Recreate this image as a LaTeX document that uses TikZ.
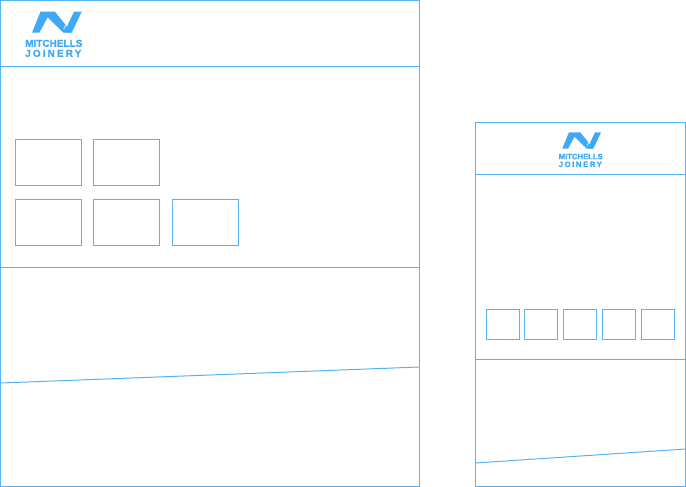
\documentclass[tikz,border=0pt]{standalone}
\usepackage{fontspec}
\setmainfont{Liberation Sans}
\definecolor{ln}{HTML}{55B2F4}
\definecolor{logo}{HTML}{3FA9F5}
\tikzset{
  x=1pt,y=-1pt,
  wire/.style={draw=ln,line width=1pt},
  logotext/.style={text=logo,inner sep=0pt,anchor=base west},
}
\newcommand{\mjlogo}[3]{%
 \begin{scope}[shift={(#1,#2)},scale=#3]
  \fill[logo] (0,21) -- (8.5,0) -- (23,0) -- (33.5,13) -- (39.7,21) -- (31.3,21) -- (15.7,5.6) -- (7.3,21) -- cycle;
  \fill[logo] (33,21) -- (36.5,11.5) -- (42,0) -- (49.7,0) -- (39.7,21) -- cycle;
  \draw[white,line width=0.6pt] (31.8,17) -- (34.5,12.5);
 \end{scope}}
\begin{document}
\begin{tikzpicture}
\useasboundingbox (0,0) rectangle (686,487);
\draw[wire] (0.5,0.5) rectangle (419.5,486.5);
\coordinate (lm1) at (0.5,66.5); \coordinate (lm2) at (419.5,66.5);
\draw[wire] (lm1) -- (lm2);
\coordinate (lb1) at (0.5,267); \coordinate (lb2) at (419.5,267);
\draw[wire] (lb1) -- (lb2);
\coordinate (ls1) at (0.5,383); \coordinate (ls2) at (419.5,367);
\draw[wire] (ls1) -- (ls2);
\draw[wire] (15,139) rectangle (81.5,185);
\draw[wire] (93,139) rectangle (159.5,185);
\draw[wire] (15,199) rectangle (81.5,245);
\draw[wire] (93,199) rectangle (159.5,245);
\draw[wire] (172,199) rectangle (238.5,245);
\mjlogo{32}{11.7}{1}
\node[logotext,font=\bfseries\fontsize{10}{10}\selectfont\addfontfeature{FakeBold=1.2}] (t1) at (25,46.8) {MITCHELLS};
\node[logotext,font=\bfseries\fontsize{10}{10}\selectfont\addfontfeature{LetterSpace=21,FakeBold=1.2}] (t2) at (25,56.8) {JOINERY};
\draw[wire] (475.5,122) rectangle (685.5,486);
\coordinate (rm1) at (475.5,174.5); \coordinate (rm2) at (685.5,174.5);
\draw[wire] (rm1) -- (rm2);
\coordinate (rb1) at (475.5,359.5); \coordinate (rb2) at (685.5,359.5);
\draw[wire] (rb1) -- (rb2);
\coordinate (rs1) at (475.5,463); \coordinate (rs2) at (685.5,449);
\draw[wire] (rs1) -- (rs2);
\draw[wire] (486,309.5) rectangle (519,339.5);
\draw[wire] (524.5,309.5) rectangle (557.5,339.5);
\draw[wire] (563.5,309.5) rectangle (596.5,339.5);
\draw[wire] (602,309.5) rectangle (635,339.5);
\draw[wire] (641,309.5) rectangle (674,339.5);
\mjlogo{562.3}{132.3}{0.78}
\node[logotext,font=\bfseries\fontsize{7.7}{8}\selectfont\addfontfeature{FakeBold=1.2}] (t3) at (558.5,159.2) {MITCHELLS};
\node[logotext,font=\bfseries\fontsize{7.7}{8}\selectfont\addfontfeature{LetterSpace=21,FakeBold=1.2}] (t4) at (558.5,167) {JOINERY};
\end{tikzpicture}
\end{document}
